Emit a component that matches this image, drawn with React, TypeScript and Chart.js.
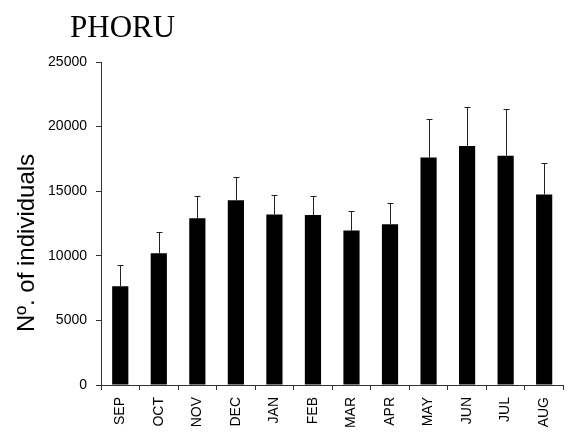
import React, { useEffect, useRef } from "react";
import { Chart, registerables } from "chart.js";

Chart.register(...registerables);

const months = ["SEP", "OCT", "NOV", "DEC", "JAN", "FEB", "MAR", "APR", "MAY", "JUN", "JUL", "AUG"];
const means = [7650, 10200, 12900, 14300, 13200, 13150, 11950, 12450, 17600, 18500, 17750, 14750];
const upperErr = [9280, 11850, 14650, 16100, 14700, 14650, 13500, 14100, 20600, 21500, 21350, 17150];
const yTicks = [0, 5000, 10000, 15000, 20000, 25000];
const chartTitle = "PHORU";
const yTitle = "Nº. of individuals";

export default function App() {
  const ref = useRef<HTMLCanvasElement | null>(null);
  useEffect(() => {
    document.body.style.margin = "0";
    const canvas = ref.current;
    if (!canvas) return;
    const extras = {
      id: "extras",
      afterDatasetsDraw(chart: any) {
        const ctx = chart.ctx;
        const x = chart.scales.x;
        const y = chart.scales.y;
        ctx.save();
        ctx.strokeStyle = "#222";
        ctx.lineWidth = 1;
        upperErr.forEach((v, i) => {
          const cx = Math.round(x.getPixelForValue(i)) + 0.5;
          const y0 = y.getPixelForValue(means[i]);
          const y1 = Math.round(y.getPixelForValue(v)) + 0.5;
          ctx.beginPath();
          ctx.moveTo(cx, y0);
          ctx.lineTo(cx, y1);
          ctx.moveTo(cx - 3, y1);
          ctx.lineTo(cx + 3, y1);
          ctx.stroke();
        });
        ctx.restore();
      },
      afterDraw(chart: any) {
        const ctx = chart.ctx;
        ctx.save();
        ctx.fillStyle = "#000";
        ctx.font = "31px 'Liberation Serif', serif";
        ctx.textAlign = "left";
        ctx.textBaseline = "alphabetic";
        ctx.fillText(chartTitle, 70, 37);
        ctx.translate(34, 243);
        ctx.rotate(-Math.PI / 2);
        ctx.font = "24px 'Liberation Sans', Arial, sans-serif";
        ctx.textAlign = "center";
        ctx.fillText(yTitle, 0, 0);
        ctx.restore();
      },
    };
    const chart = new Chart(canvas, {
      type: "bar",
      data: {
        labels: months,
        datasets: [
          {
            data: means,
            backgroundColor: "#000",
            borderWidth: 0,
            barPercentage: 0.42,
            categoryPercentage: 1,
          },
        ],
      },
      options: {
        responsive: false,
        animation: false,
        layout: { padding: { top: 62, right: 1, left: 0, bottom: 0 } },
        plugins: { legend: { display: false }, tooltip: { enabled: false }, title: { display: false } },
        scales: {
          x: {
            grid: { drawOnChartArea: false, tickLength: 5, color: "#333", offset: true },
            border: { color: "#333" },
            ticks: {
              minRotation: 90,
              maxRotation: 90,
              padding: 7,
              color: "#000",
              font: { family: "'Liberation Sans', Arial, sans-serif", size: 14 },
            },
            afterFit: (s: any) => {
              s.height = 48;
            },
          },
          y: {
            min: 0,
            max: 25000,
            afterBuildTicks: (s: any) => {
              s.ticks = yTicks.map((v) => ({ value: v }));
            },
            grid: { drawOnChartArea: false, tickLength: 5, color: "#333" },
            border: { color: "#333" },
            ticks: {
              padding: 9,
              color: "#000",
              font: { family: "'Liberation Sans', Arial, sans-serif", size: 14 },
              callback: (v: any) => String(v),
            },
            afterFit: (s: any) => {
              s.width = 101;
            },
          },
        },
      },
      plugins: [extras],
    });
    return () => chart.destroy();
  }, []);
  return <canvas ref={ref} width={568} height={433} style={{ display: "block" }} />;
}
